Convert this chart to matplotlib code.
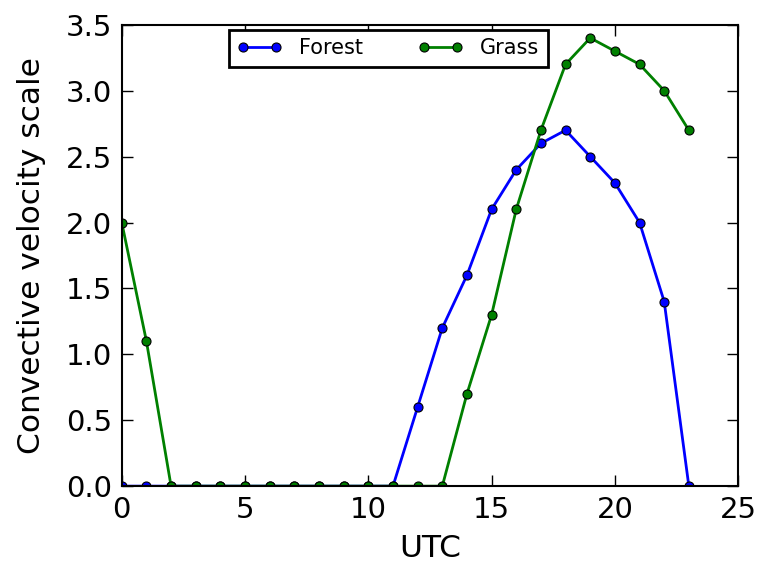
import matplotlib
matplotlib.use("Agg")
import matplotlib.pyplot as plt

hours = list(range(24))
forest = [0, 0, 0, 0, 0, 0, 0, 0, 0, 0, 0, 0, 0.6, 1.2, 1.6, 2.1, 2.4, 2.6, 2.7, 2.5, 2.3, 2.0, 1.4, 0]
grass = [2.0, 1.1, 0, 0, 0, 0, 0, 0, 0, 0, 0, 0, 0, 0, 0.7, 1.3, 2.1, 2.7, 3.2, 3.4, 3.3, 3.2, 3.0, 2.7]

fig = plt.figure(figsize=(7.61, 5.76), dpi=100)
ax = fig.add_axes([0.160, 0.156, 0.810, 0.801])
ax.plot(hours, forest, color='b', lw=2, marker='o', ms=6.5, mec='k', mew=0.8, label='Forest')
ax.plot(hours, grass, color='g', lw=2, marker='o', ms=6.5, mec='k', mew=0.8, label='Grass')
ax.set_xlim(0, 25)
ax.set_ylim(0, 3.5)
ax.set_xticks([0, 5, 10, 15, 20, 25])
ax.set_yticks([0, 0.5, 1.0, 1.5, 2.0, 2.5, 3.0, 3.5])
ax.set_yticklabels(['0.0', '0.5', '1.0', '1.5', '2.0', '2.5', '3.0', '3.5'])
ax.tick_params(direction='in', top=True, right=True, labelsize=21, length=8, width=1, pad=7)
for s in ax.spines.values():
    s.set_linewidth(1.5)
ax.set_xlabel('UTC', fontsize=22.5, labelpad=7)
ax.set_ylabel('Convective velocity scale', fontsize=22.5, labelpad=14)
leg = ax.legend(loc='upper center', bbox_to_anchor=(0.432, 1.0), ncol=2, fontsize=15, numpoints=2,
                fancybox=False, framealpha=1, edgecolor='k', columnspacing=2.6, handlelength=2.2,
                borderaxespad=0.25)
leg.get_frame().set_linewidth(2)
fig.savefig('out.png', dpi=100)
